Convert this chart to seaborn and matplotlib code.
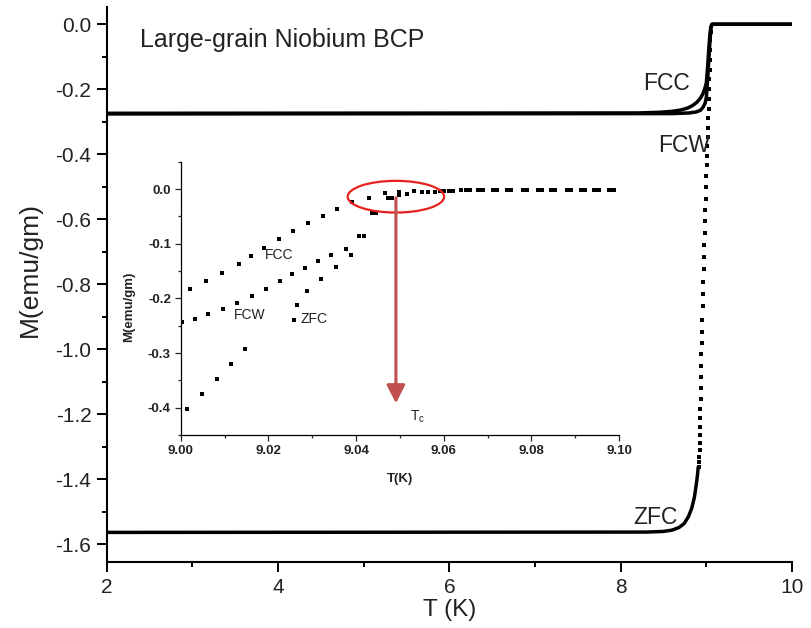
import matplotlib
matplotlib.use("Agg")
import matplotlib.pyplot as plt
from matplotlib.patches import Ellipse
import seaborn as sns
import pandas as pd

# ---------------- main panel data ----------------
fcc_main_T = [2.0, 8.2, 8.45, 8.6, 8.7, 8.78, 8.84, 8.89, 8.93, 8.96, 8.985, 9.0, 9.015,
              9.03, 9.042, 9.052, 9.065, 10.0]
fcc_main_M = [-0.274, -0.273, -0.271, -0.268, -0.264, -0.258, -0.250, -0.240, -0.228, -0.214,
              -0.195, -0.180, -0.13, -0.07, -0.03, -0.008, 0.0, 0.0]
fcw_main_T = [2.0, 8.6, 8.8, 8.88, 8.93, 8.96, 8.985, 9.0, 9.02, 9.04, 9.055, 9.07, 10.0]
fcw_main_M = [-0.276, -0.275, -0.273, -0.270, -0.265, -0.256, -0.243, -0.225, -0.15, -0.06,
              -0.01, 0.0, 0.0]
zfc_line_T = [2.0, 8.3, 8.5, 8.6, 8.68, 8.74, 8.79, 8.83, 8.86, 8.88, 8.895, 8.905]
zfc_line_M = [-1.563, -1.562, -1.560, -1.556, -1.548, -1.536, -1.515, -1.488, -1.455, -1.420,
              -1.390, -1.362]
zfc_dot_T = [8.915, 8.917, 8.919, 8.921, 8.923, 8.925, 8.927, 8.929, 8.931, 8.933, 8.935,
             8.937, 8.940, 8.943, 8.946, 8.949, 8.953, 8.957, 8.960, 8.963, 8.967, 8.971,
             8.975, 8.979, 8.983, 8.987, 8.991, 8.995, 8.999, 9.003, 9.007, 9.011, 9.014,
             9.018, 9.022, 9.026, 9.029, 9.032, 9.035, 9.038, 9.041, 9.044, 9.047, 9.050]
zfc_dot_M = [-1.361, -1.346, -1.331, -1.310, -1.288, -1.264, -1.238, -1.210, -1.182, -1.153, -1.120,
             -1.086, -1.050, -1.014, -0.980, -0.946, -0.910, -0.867, -0.829, -0.792, -0.754, -0.717,
             -0.679, -0.641, -0.605, -0.571, -0.538, -0.502, -0.466, -0.433, -0.404, -0.374, -0.346,
             -0.318, -0.290, -0.260, -0.230, -0.200, -0.170, -0.140, -0.110, -0.080, -0.050, -0.025]
main_xticks = [2, 4, 6, 8, 10]
main_yticks = [0.0, -0.2, -0.4, -0.6, -0.8, -1.0, -1.2, -1.4, -1.6]

# ---------------- inset data ----------------
fcc_in_T = [9.0021, 9.0057, 9.0094, 9.0132, 9.0160, 9.0189, 9.0224, 9.0257, 9.0290, 9.0325,
            9.0357, 9.0390, 9.0430, 9.0465, 9.0498, 9.0532, 9.0565, 9.0592, 9.0622, 9.0652,
            9.0684, 9.0717, 9.0749, 9.0785, 9.0820, 9.0850, 9.0886, 9.0918, 9.0949, 9.0983]
fcc_in_M = [-0.182, -0.168, -0.154, -0.138, -0.123, -0.108, -0.092, -0.077, -0.063, -0.049,
            -0.037, -0.024, -0.016, -0.007, -0.005, -0.004, -0.005, -0.004, -0.003, -0.002,
            -0.001, -0.001, -0.001, -0.001, -0.001, -0.001, -0.001, -0.001, -0.001, -0.001]
fcw_in_T = [9.0003, 9.0033, 9.0062, 9.0097, 9.0129, 9.0163, 9.0195, 9.0227, 9.0254, 9.0283,
            9.0313, 9.0344, 9.0376, 9.0407, 9.0437, 9.0474, 9.0516, 9.0550, 9.0580, 9.0611,
            9.0640, 9.0689, 9.0722, 9.0754, 9.0790, 9.0825, 9.0855, 9.0891, 9.0923, 9.0954, 9.0988]
fcw_in_M = [-0.244, -0.237, -0.229, -0.220, -0.209, -0.196, -0.182, -0.169, -0.156, -0.145,
            -0.132, -0.121, -0.109, -0.086, -0.043, -0.017, -0.009, -0.006, -0.005, -0.004,
            -0.002, -0.001, -0.001, -0.001, -0.001, -0.001, -0.001, -0.001, -0.001, -0.001, -0.001]
zfc_in_T = [9.0015, 9.0049, 9.0082, 9.0115, 9.0146, 9.0258, 9.0266, 9.0288, 9.0319, 9.0354,
            9.0389, 9.0418, 9.0445, 9.0481, 9.0499, 9.0600, 9.0660, 9.0679, 9.0712, 9.0744,
            9.0780, 9.0815, 9.0845, 9.0881, 9.0913, 9.0944, 9.0978]
zfc_in_M = [-0.403, -0.375, -0.348, -0.320, -0.293, -0.240, -0.213, -0.187, -0.164, -0.142,
            -0.121, -0.086, -0.043, -0.016, -0.010, -0.003, -0.001, -0.001, -0.001, -0.001,
            -0.001, -0.001, -0.001, -0.001, -0.001, -0.001, -0.001]
inset_xticks = [9.00, 9.02, 9.04, 9.06, 9.08, 9.10]
inset_yticks = [0.0, -0.1, -0.2, -0.3, -0.4]

# ---------------- styling ----------------
sns.set_style("ticks")
plt.rcParams['font.family'] = ['Liberation Sans', 'DejaVu Sans']
TXT = '#222222'

fig = plt.figure(figsize=(8.11, 6.28), dpi=100)
ax = fig.add_axes([0.1316, 0.1046, 0.845, 0.8838])

sns.lineplot(x=fcw_main_T, y=fcw_main_M, ax=ax, color='black', lw=2.5, sort=False, estimator=None)
sns.lineplot(x=fcc_main_T, y=fcc_main_M, ax=ax, color='black', lw=2.5, sort=False, estimator=None)
sns.lineplot(x=zfc_line_T, y=zfc_line_M, ax=ax, color='black', lw=2.5, sort=False, estimator=None)
sns.scatterplot(x=zfc_dot_T, y=zfc_dot_M, ax=ax, color='black', marker='s', s=8, linewidth=0)

ax.set_xlim(2, 10)
ax.set_ylim(-1.655, 0.052)
ax.set_xticks(main_xticks)
ax.set_yticks(main_yticks)
ax.set_xticks([3, 5, 7, 9], minor=True)
ax.set_yticks([-0.1, -0.3, -0.5, -0.7, -0.9, -1.1, -1.3, -1.5], minor=True)
ax.set_xticklabels([str(v) for v in main_xticks])
ax.set_yticklabels([f"{v:.1f}" for v in main_yticks])
ax.tick_params(axis='both', which='major', direction='out', length=7, width=1.4,
               labelsize=15, colors='black', labelcolor=TXT, pad=4)
ax.tick_params(axis='both', which='minor', direction='out', length=3.5, width=1.4, colors='black')
for s in ['top', 'right']:
    ax.spines[s].set_visible(False)
for s in ['left', 'bottom']:
    ax.spines[s].set_linewidth(1.5)
    ax.spines[s].set_color('black')
ax.set_xlabel('T (K)', fontsize=17.5, color=TXT)
ax.set_ylabel('M(emu/gm)', fontsize=19, color=TXT)
ax.xaxis.set_label_coords(0.501, -0.066)
ax.yaxis.set_label_coords(-0.094, 0.527)

ax.text(2.39, -0.048, 'Large-grain Niobium BCP', fontsize=18, color=TXT, ha='left', va='center')
ax.text(8.534, -0.181, 'FCC', fontsize=16.5, color=TXT, ha='center', va='center')
ax.text(8.745, -0.372, 'FCW', fontsize=16.5, color=TXT, ha='center', va='center')
ax.text(8.405, -1.518, 'ZFC', fontsize=16.5, color=TXT, ha='center', va='center')

# ---------------- inset ----------------
axi = fig.add_axes([0.2228, 0.3073, 0.5405, 0.4352])
axi.patch.set_alpha(0)
for T, M in [(fcc_in_T, fcc_in_M), (fcw_in_T, fcw_in_M), (zfc_in_T, zfc_in_M)]:
    sns.scatterplot(x=T, y=M, ax=axi, color='black', marker='s', s=6, linewidth=0)
axi.set_xlim(9.00, 9.10)
axi.set_ylim(-0.45, 0.05)
axi.set_xticks(inset_xticks)
axi.set_yticks(inset_yticks)
axi.set_xticks([9.01, 9.03, 9.05, 9.07, 9.09], minor=True)
axi.set_yticks([0.05, -0.05, -0.15, -0.25, -0.35, -0.45], minor=True)
axi.set_xticklabels([f"{v:.2f}" for v in inset_xticks], fontweight='bold')
axi.set_yticklabels([f"{v:.1f}" for v in inset_yticks], fontweight='bold')
axi.tick_params(axis='both', which='major', direction='out', length=4, width=0.9,
                labelsize=9.5, labelcolor=TXT, pad=3)
axi.tick_params(axis='both', which='minor', direction='out', length=2.5, width=0.9)
for s in ['top', 'right']:
    axi.spines[s].set_visible(False)
for s in ['left', 'bottom']:
    axi.spines[s].set_linewidth(0.9)
    axi.spines[s].set_color('black')
axi.set_xlabel('T(K)', fontsize=9.5, fontweight='bold', color=TXT)
axi.set_ylabel('M(emu/gm)', fontsize=9.5, fontweight='bold', color=TXT)
axi.xaxis.set_label_coords(0.500, -0.140)
axi.yaxis.set_label_coords(-0.104, 0.469)

axi.text(9.0224, -0.121, 'FCC', fontsize=10, color=TXT, ha='center', va='center')
axi.text(9.0158, -0.230, 'FCW', fontsize=10, color=TXT, ha='center', va='center')
axi.text(9.0305, -0.238, 'ZFC', fontsize=10, color=TXT, ha='center', va='center')
axi.text(9.0523, -0.416, r'T$_\mathregular{c}$', fontsize=10, color=TXT, ha='left', va='center')

axi.add_patch(Ellipse((9.0491, -0.014), width=0.022, height=0.058, fill=False,
                      edgecolor='#e8201e', lw=1.6, clip_on=False))
axi.annotate('', xy=(9.0491, -0.392), xytext=(9.0491, -0.016),
             arrowprops=dict(arrowstyle='-|>,head_length=0.55,head_width=0.28',
                             mutation_scale=20, color='#c0504d', lw=2.2,
                             shrinkA=0, shrinkB=0))

fig.savefig('out.png', dpi=100)
